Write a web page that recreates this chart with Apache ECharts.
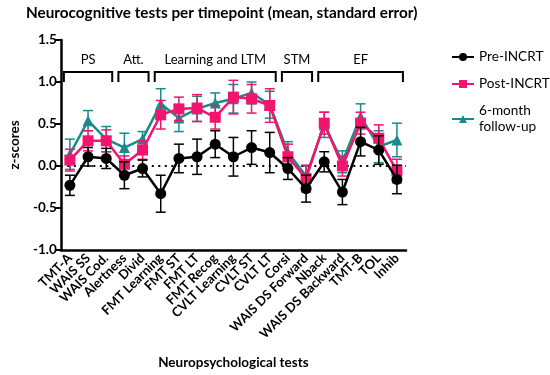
<!DOCTYPE html>
<html><head><meta charset="utf-8">
<script src="https://cdn.jsdelivr.net/npm/echarts@6/dist/echarts.min.js"></script>
<style>html,body{margin:0;padding:0;background:#fff}#c{width:550px;height:375px}</style>
</head><body><div id="c"></div>
<script>
const categories = ['TMT-A','WAIS SS','WAIS Cod.','Alertness','Divid','FMT Learning','FMT ST','FMT LT','FMT Recog','CVLT Learning','CVLT ST','CVLT LT','Corsi','WAIS DS Forward','Nback','WAIS DS Backward','TMT-B','TOL','Inhib'];
const preMean  = [-0.23, 0.11, 0.09, -0.11, -0.03, -0.33, 0.09, 0.11, 0.26, 0.11, 0.22, 0.16, -0.03, -0.27, 0.05, -0.31, 0.29, 0.19, -0.16];
const preSE    = [0.12, 0.11, 0.12, 0.16, 0.10, 0.22, 0.17, 0.21, 0.16, 0.23, 0.20, 0.24, 0.13, 0.16, 0.12, 0.15, 0.17, 0.17, 0.17];
const postMean = [0.07, 0.30, 0.30, 0.02, 0.19, 0.61, 0.68, 0.69, 0.58, 0.82, 0.80, 0.72, 0.11, -0.15, 0.51, 0.00, 0.51, 0.33, -0.06];
const postSE   = [0.13, 0.12, 0.13, 0.10, 0.11, 0.17, 0.14, 0.16, 0.14, 0.20, 0.17, 0.20, 0.15, 0.16, 0.13, 0.12, 0.13, 0.16, 0.14];
const fuMean   = [0.14, 0.54, 0.32, 0.22, 0.32, 0.74, 0.57, 0.68, 0.75, 0.80, 0.87, 0.73, 0.16, -0.12, 0.49, 0.05, 0.59, 0.23, 0.31];
const fuSE     = [0.18, 0.12, 0.15, 0.17, 0.09, 0.18, 0.16, 0.15, 0.12, 0.17, 0.13, 0.16, 0.13, 0.12, 0.15, 0.13, 0.15, 0.19, 0.20];
const groupNames = ['PS','Att.','Learning and LTM','STM','EF'];
const groupStart = [0, 3, 5, 12, 14];
const groupEnd   = [2, 4, 11, 13, 18];
const yTicks = [-1.0, -0.5, 0.0, 0.5, 1.0, 1.5];

const BLACK = '#000000', PINK = '#f2146e', TEAL = '#1a8a8a';
const FONT = 'Lato';

function errSeries(name, means, ses, color, z) {
  return {
    type: 'custom', name: name + '_err', z: z, silent: true, clip: false,
    encode: { x: 0, y: 1 },
    data: means.map((m, i) => [i, m, ses[i]]),
    renderItem: function (params, api) {
      const i = api.value(0), m = api.value(1), s = api.value(2);
      const t = api.coord([i, m + s]), b = api.coord([i, m - s]);
      const w = 5;
      const st = { stroke: color, lineWidth: 1.5 };
      return { type: 'group', children: [
        { type: 'line', shape: { x1: t[0], y1: t[1], x2: b[0], y2: b[1] }, style: st },
        { type: 'line', shape: { x1: t[0]-w, y1: t[1], x2: t[0]+w, y2: t[1] }, style: st },
        { type: 'line', shape: { x1: b[0]-w, y1: b[1], x2: b[0]+w, y2: b[1] }, style: st }
      ]};
    }
  };
}
function lineSeries(name, means, color, symbol, size, z) {
  return {
    type: 'line', name: name, data: means, z: z,
    symbol: symbol, symbolSize: size,
    lineStyle: { color: color, width: 2.5 },
    itemStyle: { color: color, borderWidth: 0 },
    emphasis: { disabled: true }
  };
}

const chart = echarts.init(document.getElementById('c'), null, { renderer: 'canvas' });
const option = {
  animation: false,
  title: { text: 'Neurocognitive tests per timepoint (mean, standard error)', left: 21, top: 1,
    textStyle: { fontFamily: FONT, fontSize: 15.3, fontWeight: 'bold', color: '#000' } },
  legend: {
    orient: 'vertical', left: 446, top: 44, itemGap: 11, itemWidth: 22, itemHeight: 10,
    data: ['Pre-INCRT', 'Post-INCRT', '6-month\nfollow-up'],
    textStyle: { fontFamily: FONT, fontSize: 13.6, color: '#000', lineHeight: 16 }
  },
  grid: { left: 52, right: 144, top: 40, bottom: 125 },
  xAxis: {
    type: 'category', data: categories, boundaryGap: true,
    name: 'Neuropsychological tests', nameLocation: 'middle', nameGap: 106,
    nameTextStyle: { fontFamily: FONT, fontSize: 13.5, fontWeight: 'bold', color: '#000' },
    axisLine: { onZero: false, lineStyle: { color: '#000', width: 2.5 } },
    axisTick: { alignWithLabel: true, length: 6, lineStyle: { color: '#000', width: 2 } },
    axisLabel: { rotate: 45, interval: 0, margin: 6, fontFamily: FONT, fontSize: 13, fontWeight: 'bold', color: '#000' }
  },
  yAxis: {
    type: 'value', min: -1, max: 1.5, interval: 0.5,
    name: 'z-scores', nameLocation: 'middle', nameGap: 38,
    nameTextStyle: { fontFamily: FONT, fontSize: 13.5, fontWeight: 'bold', color: '#000' },
    axisLine: { show: true, lineStyle: { color: '#000', width: 2.5 } },
    axisTick: { show: true, length: 6, lineStyle: { color: '#000', width: 2 } },
    splitLine: { show: false },
    axisLabel: { margin: 4, fontFamily: FONT, fontSize: 13.5, fontWeight: 'bold', color: '#000',
      formatter: v => yTicks.includes(v) ? v.toFixed(1) : '' }
  },
  series: [
    {
      type: 'custom', name: 'brackets', silent: true, clip: false, z: 1,
      encode: { x: 0, y: 1 },
      data: groupStart.map((s, i) => [s, groupEnd[i]]),
      renderItem: function (params, api) {
        const s = api.value(0), e = api.value(1);
        const a = api.coord([s, 1.12]), b = api.coord([e, 1.12]);
        const low = api.coord([s, 1.0])[1];
        const off = 6;
        const x1 = a[0] - off, x2 = b[0] + off, y = a[1];
        return { type: 'group', children: [
          { type: 'polyline', shape: { points: [[x1, low], [x1, y], [x2, y], [x2, low]] },
            style: { stroke: '#000', lineWidth: 2, fill: null } },
          { type: 'text', x: (x1 + x2) / 2, y: y - 6,
            style: { text: groupNames[params.dataIndex], fontFamily: FONT, fontSize: 13, fill: '#000',
              align: 'center', verticalAlign: 'bottom' } }
        ]};
      }
    },
    {
      type: 'line', name: 'zero', data: [], silent: true, z: 2,
      markLine: { silent: true, symbol: 'none', label: { show: false }, animation: false,
        lineStyle: { color: '#000', type: [2, 4.5], width: 2.2 },
        emphasis: { disabled: true },
        data: [{ yAxis: 0 }] }
    },
    errSeries('fu', fuMean, fuSE, TEAL, 3),
    lineSeries('6-month\nfollow-up', fuMean, TEAL, 'triangle', 11, 4),
    errSeries('post', postMean, postSE, PINK, 5),
    lineSeries('Post-INCRT', postMean, PINK, 'rect', 11, 6),
    errSeries('pre', preMean, preSE, BLACK, 7),
    lineSeries('Pre-INCRT', preMean, BLACK, 'circle', 11, 8)
  ]
};
chart.setOption(option);
</script></body></html>
